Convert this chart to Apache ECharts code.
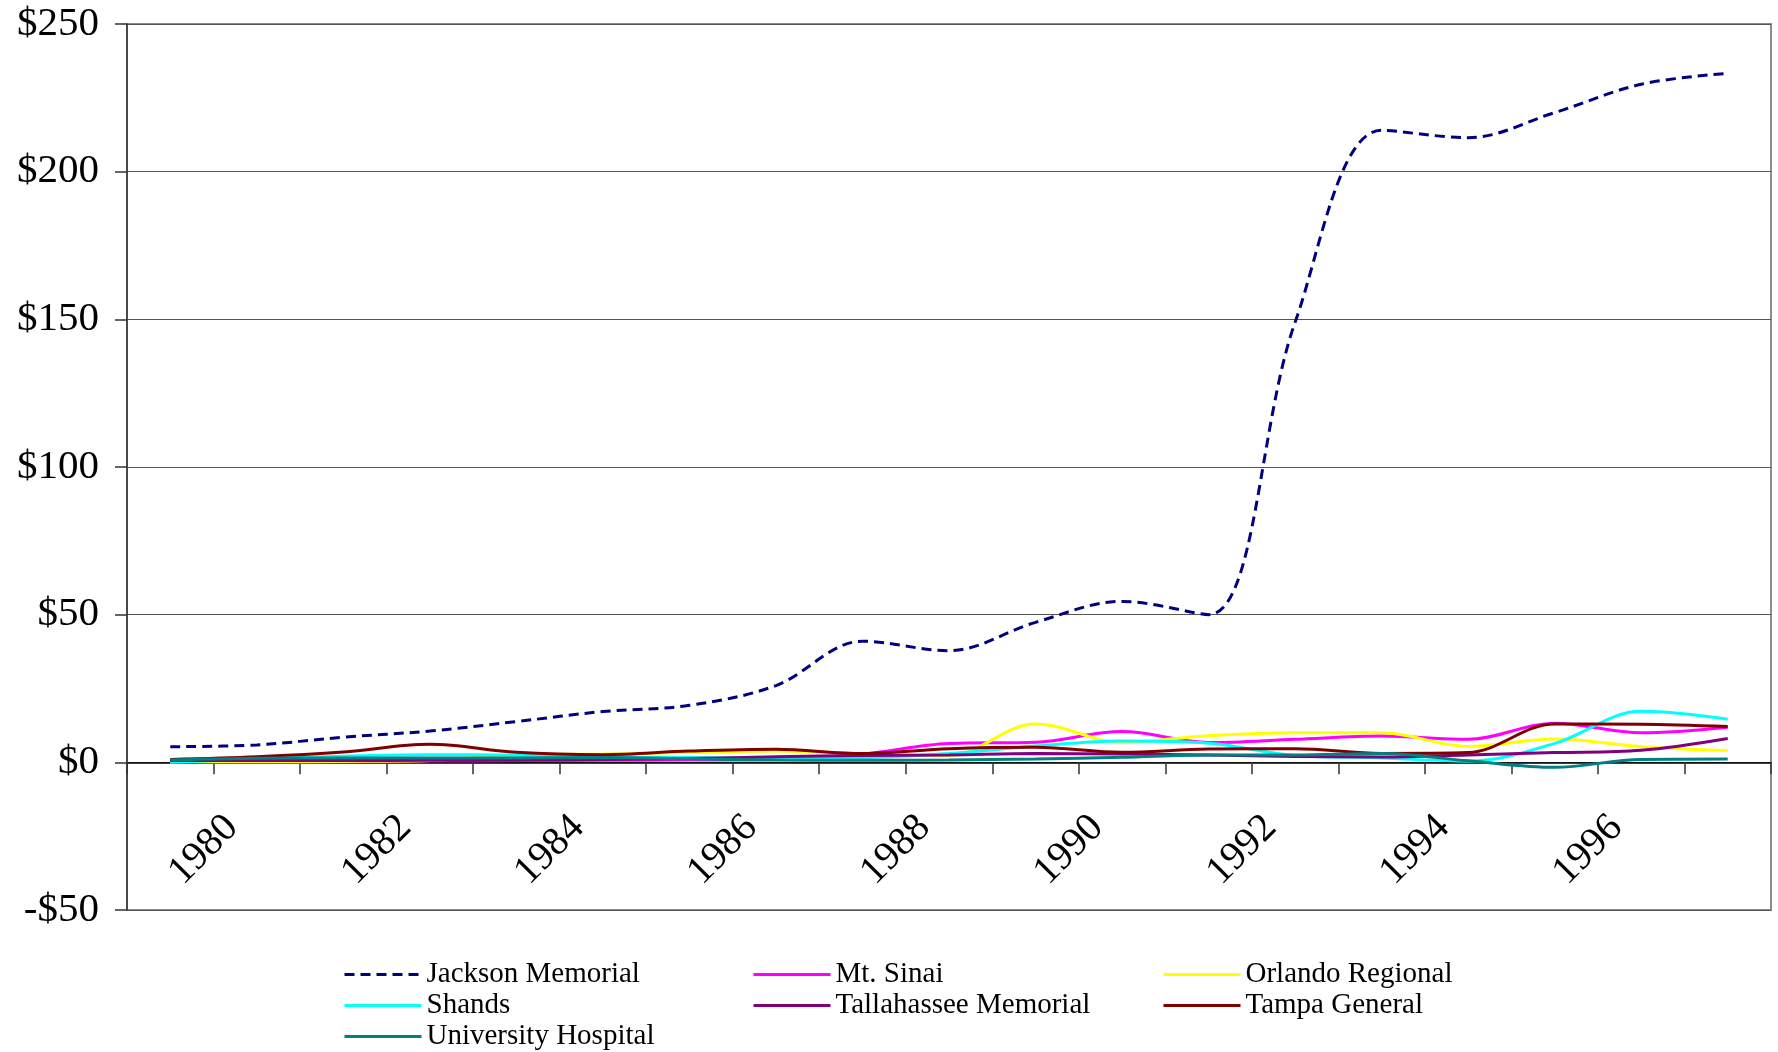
<!DOCTYPE html>
<html>
<head>
<meta charset="utf-8">
<script src="https://cdn.jsdelivr.net/npm/echarts@6/dist/echarts.min.js"></script>
<style>
html,body{margin:0;padding:0;background:#fff;}
#chart{width:1778px;height:1052px;}
</style>
</head>
<body>
<div id="chart"></div>
<script>
var years = ['1979','1980','1981','1982','1983','1984','1985','1986','1987','1988','1989','1990','1991','1992','1993','1994','1995','1996','1997'];
var jackson = [5.3, 5.9, 8.5, 10.6, 13.8, 17.2, 19.3, 26.0, 41.0, 37.8, 47.4, 54.5, 50.0, 149.0, 214.0, 211.5, 220.0, 229.6, 233.3];
var mtSinai = [0.3, 0.3, 0.4, 0.5, 0.6, 0.7, 0.8, 1.0, 2.8, 6.4, 6.8, 10.4, 6.7, 7.8, 8.9, 7.8, 13.2, 10.0, 11.9];
var orlando = [0.2, 0.2, 0.3, 0.6, 2.5, 2.8, 3.3, 3.8, 3.0, 2.3, 13.0, 6.8, 9.0, 10.0, 10.0, 5.4, 7.9, 5.3, 4.0];
var shands = [0.0, 1.1, 2.1, 2.6, 2.4, 1.9, 1.6, 1.4, 1.6, 3.0, 5.5, 7.2, 6.5, 2.3, 1.5, 0.4, 6.4, 17.3, 14.6];
var tallahassee = [0.6, 0.6, 0.6, 0.7, 0.8, 1.0, 1.3, 1.9, 2.3, 2.5, 3.0, 2.8, 2.5, 2.0, 1.8, 2.5, 3.3, 4.1, 8.1];
var tampa = [1.0, 1.9, 3.5, 6.1, 3.4, 2.6, 3.8, 4.4, 3.0, 4.6, 5.1, 3.4, 4.5, 4.6, 3.0, 3.3, 13.0, 12.9, 12.1];
var university = [0.8, 1.4, 1.5, 1.5, 1.5, 1.6, 1.2, 0.8, 0.7, 0.8, 1.1, 1.7, 2.5, 2.5, 3.0, 0.5, -1.7, 1.0, 1.1];

var names = ['Jackson Memorial','Mt. Sinai','Orlando Regional','Shands','Tallahassee Memorial','Tampa General','University Hospital'];
var colors = ['#000080','#FF00FF','#FFFF00','#00FFFF','#800080','#800000','#008080'];
var seriesData = [jackson, mtSinai, orlando, shands, tallahassee, tampa, university];

var FONT = '"Liberation Serif","Times New Roman",serif';

var chart = echarts.init(document.getElementById('chart'), null, {renderer:'canvas'});

var series = seriesData.map(function(d, i){
  return {
    name: names[i],
    type: 'line',
    data: d,
    smooth: 0.35,
    symbol: 'none',
    showSymbol: false,
    animation: false,
    lineStyle: {
      color: colors[i],
      width: 3,
      type: i === 0 ? [10, 6] : 'solid'
    },
    itemStyle: {color: colors[i]}
  };
});

// legend grid: 3 columns, row-major like the original
var legendCols = [343, 752, 1162];
var legendRows = [960, 991, 1022];

function legendItem(idx, name){
  return {
    orient: 'horizontal',
    left: legendCols[idx % 3],
    top: legendRows[Math.floor(idx / 3)],
    padding: 0,
    itemWidth: 77,
    itemHeight: 14,
    data: [name],
    itemStyle: {opacity: 0},
    lineStyle: {width: 3},
    textStyle: {fontFamily: FONT, fontSize: 29, color: '#000', lineHeight: 25},
    selectedMode: false
  };
}

chart.setOption({
  backgroundColor: '#fff',
  animation: false,
  color: colors,
  grid: {
    left: 127, right: 7, top: 24, bottom: 142,
    show: true, borderColor: '#8c8c8c', borderWidth: 2
  },
  legend: names.map(function(n, i){ return legendItem(i, n); }),
  xAxis: {
    type: 'category',
    data: years,
    boundaryGap: true,
    axisLine: {onZero: true, lineStyle: {color: '#000', width: 1.5}},
    axisTick: {show: true, interval: 0, length: 12, lineStyle: {color: '#333', width: 1.5}},
    axisLabel: {
      interval: function(index){ return index % 2 === 1; },
      rotate: 45,
      margin: -113,
      padding: [0, 35, 0, 0],
      fontFamily: FONT,
      fontSize: 40,
      color: '#000'
    },
    splitLine: {show: false}
  },
  yAxis: {
    type: 'value',
    min: -50, max: 250, interval: 50,
    axisLine: {show: true, lineStyle: {color: '#333', width: 1.5}},
    axisTick: {show: true, length: 12, lineStyle: {color: '#333', width: 1.5}},
    axisLabel: {
      margin: 28,
      fontFamily: FONT,
      fontSize: 41,
      color: '#000',
      formatter: function(v){ return v < 0 ? '-$' + (-v) : '$' + v; }
    },
    splitLine: {show: true, lineStyle: {color: '#555', width: 1}}
  },
  series: series
});
</script>
</body>
</html>
